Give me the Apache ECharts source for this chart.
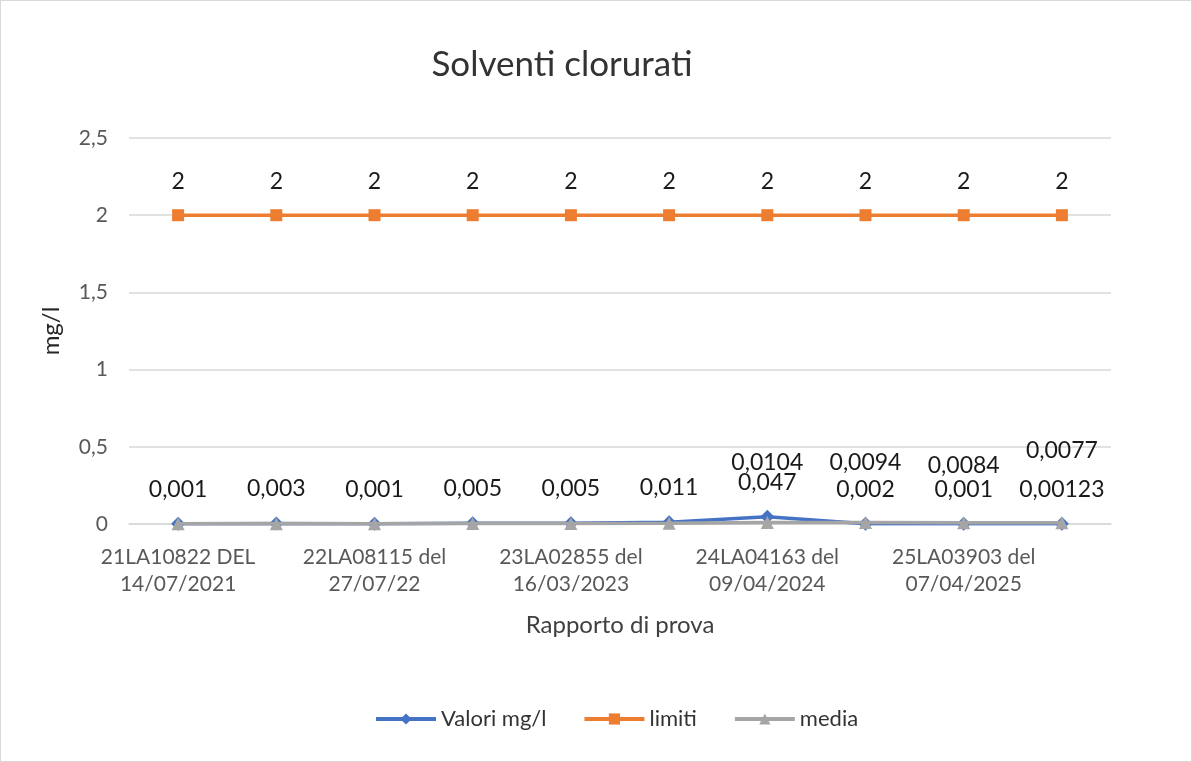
<!DOCTYPE html>
<html>
<head>
<meta charset="utf-8">
<script src="https://cdn.jsdelivr.net/npm/echarts@6/dist/echarts.min.js"></script>
<style>
html,body{margin:0;padding:0;background:#fff;}
#c{width:1192px;height:762px;box-sizing:border-box;border:1px solid #d9d9d9;}
</style>
</head>
<body>
<div id="c"></div>
<script>
const categories = [
  "21LA10822 DEL\n14/07/2021", "",
  "22LA08115 del\n27/07/22", "",
  "23LA02855 del\n16/03/2023", "",
  "24LA04163 del\n09/04/2024", "",
  "25LA03903 del\n07/04/2025", ""
];
const valori = [0.001, 0.003, 0.001, 0.005, 0.005, 0.011, 0.047, 0.002, 0.001, 0.00123];
const limiti = [2, 2, 2, 2, 2, 2, 2, 2, 2, 2];
const media = [0.001, 0.002, 0.0017, 0.0025, 0.003, 0.0043, 0.0104, 0.0094, 0.0084, 0.0077];
const mediaLabelShown = [false, false, false, false, false, false, true, true, true, true];
const yTicks = [0, 0.5, 1, 1.5, 2, 2.5];

const FONT = "Lato, 'Open Sans', sans-serif";
const fmt = v => String(v).replace('.', ',');
const mediaDist = [40, 40, 40, 40, 40, 40, 42, 42, 39, 54];

const chart = echarts.init(document.getElementById('c'));
chart.setOption({
  animation: false,
  textStyle: { fontFamily: FONT },
  title: {
    text: 'Solventi clorurati',
    left: 556, top: 41, textAlign: 'center',
    textStyle: { fontFamily: FONT, fontSize: 35, fontWeight: 'normal', color: '#333' }
  },
  legend: {
    bottom: 26, left: 368,
    itemWidth: 60, itemHeight: 14, itemGap: 36,
    lineStyle: { width: 4 },
    textStyle: { fontFamily: FONT, fontSize: 22, color: '#333' },
    data: ['Valori mg/l', 'limiti', 'media']
  },
  grid: { left: 128, right: 80, top: 137, bottom: 237 },
  xAxis: {
    type: 'category',
    data: categories,
    boundaryGap: true,
    name: 'Rapporto di prova',
    nameLocation: 'middle',
    nameGap: 89,
    nameTextStyle: { fontFamily: FONT, fontSize: 24, color: '#404040' },
    axisLine: { show: true, lineStyle: { color: '#d9d9d9', width: 1.5 } },
    axisTick: { show: false },
    axisLabel: { interval: 0, fontFamily: FONT, fontSize: 21, color: '#595959', lineHeight: 27, margin: 20 }
  },
  yAxis: {
    type: 'value',
    min: 0, max: 2.5, interval: 0.5,
    name: 'mg/l',
    nameLocation: 'middle',
    nameGap: 66,
    nameRotate: 90,
    nameTextStyle: { fontFamily: FONT, fontSize: 24, color: '#262626' },
    axisLine: { show: false },
    axisTick: { show: false },
    splitLine: { lineStyle: { color: '#d9d9d9', width: 1.5 } },
    axisLabel: {
      fontFamily: FONT, fontSize: 21, color: '#595959', margin: 21,
      formatter: v => yTicks.indexOf(v) >= 0 ? fmt(v) : ''
    }
  },
  series: [
    {
      name: 'Valori mg/l', type: 'line',
      data: valori,
      symbol: 'diamond', symbolSize: 14,
      lineStyle: { color: '#4472C4', width: 3.5 },
      itemStyle: { color: '#4472C4' },
      label: { show: true, position: 'top', distance: 16, fontFamily: FONT, fontSize: 23, color: '#1a1a1a', formatter: p => fmt(p.value) },
      z: 2
    },
    {
      name: 'limiti', type: 'line',
      data: limiti,
      symbol: 'rect', symbolSize: 12,
      lineStyle: { color: '#ED7D31', width: 3.5 },
      itemStyle: { color: '#ED7D31' },
      label: { show: true, position: 'top', distance: 16, fontFamily: FONT, fontSize: 23, color: '#1a1a1a', formatter: p => fmt(p.value) },
      z: 3
    },
    {
      name: 'media', type: 'line',
      data: media.map((v, i) => ({
        value: v,
        label: { show: mediaLabelShown[i], distance: mediaDist[i] }
      })),
      symbol: 'triangle', symbolSize: 13,
      lineStyle: { color: '#A5A5A5', width: 3.5 },
      itemStyle: { color: '#A5A5A5' },
      label: { position: 'top', fontFamily: FONT, fontSize: 23, color: '#1a1a1a', formatter: p => fmt(p.value) },
      z: 4
    }
  ]
});
</script>
</body>
</html>
